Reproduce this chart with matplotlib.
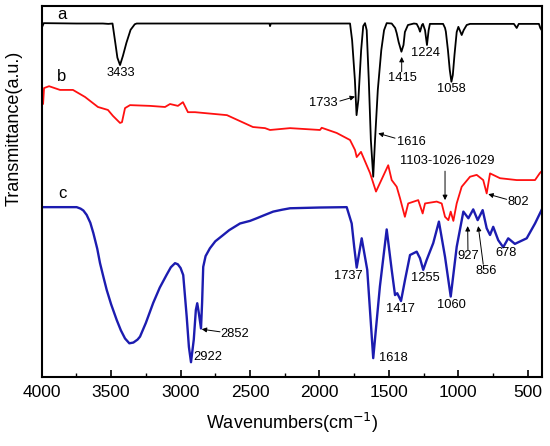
import matplotlib
matplotlib.use("Agg")
import matplotlib.pyplot as plt
from matplotlib.ticker import MultipleLocator

plt.rcParams['font.family'] = ['Liberation Sans', 'DejaVu Sans']

# spectrum a (black), offset transmittance in a.u.
wn_a = [4000, 3985, 3750, 3560, 3520, 3490, 3470, 3455, 3436, 3415, 3390, 3360, 3330, 3316,
        2360, 2356, 2350, 1780, 1765, 1745, 1733, 1720, 1700, 1685, 1672, 1660, 1645, 1630,
        1613, 1600, 1580, 1555, 1535, 1516, 1480, 1455, 1444, 1430, 1410, 1395, 1385, 1363,
        1320, 1300, 1285, 1276, 1262, 1255, 1240, 1226, 1214, 1205, 1110, 1096, 1090, 1075,
        1062, 1050, 1040, 1028, 1012, 1000, 990, 976, 962, 940, 916, 600, 580, 565, 420,
        410, 400]
t_a = [94.0, 95.3, 95.2, 95.2, 95.1, 95.2, 90.0, 86.0, 84.0, 86.5, 90.0, 93.5, 95.0, 95.2,
       95.2, 94.5, 95.2, 95.2, 90.7, 80.0, 70.5, 74.6, 88.0, 94.5, 95.3, 93.4, 80.0, 63.8,
       53.9, 63.8, 77.3, 88.0, 93.4, 95.3, 95.2, 94.0, 92.6, 90.2, 87.6, 89.4, 92.9, 94.8,
       95.2, 95.1, 94.0, 93.0, 94.8, 95.1, 93.4, 89.4, 93.4, 95.1, 95.1, 94.0, 93.0, 88.0,
       82.7, 79.5, 81.3, 86.7, 92.9, 94.3, 93.4, 92.1, 93.4, 94.8, 95.1, 95.1, 94.0, 95.1, 95.1,
       94.0, 93.4]

# spectrum b (red)
wn_b = [4000, 3990, 3983, 3947, 3868, 3775, 3688, 3595, 3523, 3487, 3436, 3422, 3400, 3364,
        3220, 3112, 3076, 3019, 2983, 2947, 2896, 2839, 2666, 2479, 2392, 2356, 2212, 1996,
        1984, 1876, 1780, 1744, 1732, 1701, 1636, 1593, 1505, 1480, 1444, 1420, 1385, 1361,
        1289, 1257, 1240, 1156, 1120, 1096, 1072, 1055, 1036, 1012, 976, 916, 868, 821, 796,
        772, 700, 580, 448, 413, 400]
t_b = [74.6, 73.5, 77.8, 78.3, 77.3, 77.3, 75.4, 72.7, 71.9, 70.3, 68.4, 68.6, 72.4, 73.2,
       73.0, 72.7, 73.5, 73.0, 74.0, 71.3, 71.3, 71.1, 70.5, 67.3, 67.0, 66.5, 67.0, 66.5,
       67.1, 65.7, 63.8, 61.1, 59.2, 60.6, 54.9, 49.9, 57.0, 53.0, 51.2, 48.1, 43.1, 46.7,
       47.6, 44.0, 46.7, 47.2, 46.7, 43.1, 42.2, 44.5, 42.0, 46.7, 51.2, 53.9, 54.4, 53.0, 49.4,
       54.8, 53.5, 53.0, 53.0, 54.9, 55.4]

# spectrum c (blue)
wn_c = [4000, 3748, 3720, 3700, 3676, 3650, 3628, 3600, 3580, 3555, 3532, 3500, 3460, 3430,
        3400, 3369, 3340, 3310, 3292, 3250, 3197, 3150, 3100, 3070, 3040, 3020, 3000, 2981,
        2956, 2940, 2925, 2905, 2890, 2880, 2868, 2853, 2845, 2837, 2820, 2789, 2750, 2693,
        2650, 2572, 2500, 2452, 2400, 2333, 2270, 2212, 2000, 1804, 1768, 1750, 1732, 1696,
        1656, 1613, 1565, 1516, 1480, 1456, 1440, 1413, 1384, 1348, 1300, 1276, 1253, 1228,
        1181, 1140, 1096, 1055, 1012, 964, 928, 893, 861, 825, 796, 772, 749, 713, 677, 641,
        593, 508, 448, 413, 400]
t_c = [45.7, 45.7, 45.3, 44.8, 43.6, 41.5, 38.7, 34.5, 30.6, 26.8, 23.4, 19.5, 15.3, 12.5,
       10.3, 9.0, 9.2, 10.0, 10.8, 14.5, 19.9, 24.0, 27.5, 29.5, 30.6, 30.3, 29.3, 27.4,
       16.2, 8.0, 3.9, 10.0, 18.0, 19.8, 17.0, 13.0, 20.0, 29.6, 32.5, 34.6, 36.5, 38.2,
       39.5, 41.3, 42.0, 42.7, 43.5, 44.5, 45.0, 45.4, 45.6, 45.7, 41.3, 35.0, 29.4, 37.3,
       28.8, 5.0, 24.3, 39.7, 28.8, 22.0, 22.5, 20.4, 26.1, 32.8, 33.7, 31.9, 28.8, 31.5,
       36.0, 41.8, 32.3, 21.6, 35.0, 44.5, 42.7, 45.1, 42.2, 44.9, 40.0, 38.2, 40.4, 36.8,
       34.9, 37.3, 35.8, 37.3, 41.3, 44.0, 45.0]

# peak labels (text, x, y), left-aligned labels, and arrows (x_start, y_start, x_tip, y_tip)
plain_labels = [("3433", 3431, 81.8), ("1224", 1236, 87.2), ("1058", 1048, 77.5),
                ("1737", 1793, 27.1), ("1417", 1420, 18.2), ("1255", 1240, 26.5),
                ("1060", 1048, 19.3), ("678", 657, 33.3),
                ("1733", 1973, 73.8), ("1616", 1336, 63.3), ("1415", 1404, 80.4),
                ("1103-1026-1029", 1080, 58.1), ("802", 569, 47.0), ("2852", 2608, 11.5),
                ("927", 929, 32.5), ("856", 801, 28.5)]
left_labels = [("2922", 2905, 5.4), ("1618", 1570, 5.0)]
arrows = [(1853, 74.3, 1744, 75.5),
          (1456, 64.3, 1577, 65.6),
          (1408, 82.2, 1408, 86.2),
          (1096, 55.4, 1096, 47.6),
          (652, 47.8, 785, 49.2),
          (2716, 12.1, 2848, 12.8),
          (931, 34.2, 933, 40.6),
          (821, 30.3, 857, 40.6)]
curve_names = [("a", 3854, 97.7), ("b", 3854, 81.0), ("c", 3854, 49.5)]

fig = plt.figure(figsize=(5.5, 4.46), dpi=100)
ax = fig.add_axes([0.0758, 0.1554, 0.9091, 0.8318])

ax.plot(wn_a, t_a, color='black', lw=1.3)
ax.plot(wn_b, t_b, color='#ff1010', lw=1.3)
ax.plot(wn_c, t_c, color='#1c1cb0', lw=1.7)

for txt, x, y in plain_labels:
    ax.text(x, y, txt, fontsize=9.3, ha='center', va='center')
for txt, x, y in left_labels:
    ax.text(x, y, txt, fontsize=9.3, ha='left', va='center')
for x0, y0, x1, y1 in arrows:
    ax.annotate('', xy=(x1, y1), xytext=(x0, y0),
                arrowprops=dict(arrowstyle='-|>', color='black', lw=0.7,
                                mutation_scale=7, shrinkA=0, shrinkB=0))
for txt, x, y in curve_names:
    ax.text(x, y, txt, fontsize=12, ha='center', va='center')

ax.set_xlim(4000, 400)
ax.set_ylim(0, 100)
ax.set_yticks([])
ax.xaxis.set_major_locator(MultipleLocator(500))
ax.xaxis.set_minor_locator(MultipleLocator(250))
ax.tick_params(axis='x', which='major', direction='in', length=5, width=1.2, labelsize=12.5, pad=6)
ax.tick_params(axis='x', which='minor', direction='in', length=3, width=1.0)
for s in ax.spines.values():
    s.set_linewidth(1.5)

ax.set_xlabel("Wavenumbers(cm$^{-1}$)", fontsize=13, labelpad=8)
fig.text(0.026, 0.712, "Transmittance(a.u.)", fontsize=13, rotation=90, ha='center', va='center')

fig.savefig("out.png", dpi=100)
